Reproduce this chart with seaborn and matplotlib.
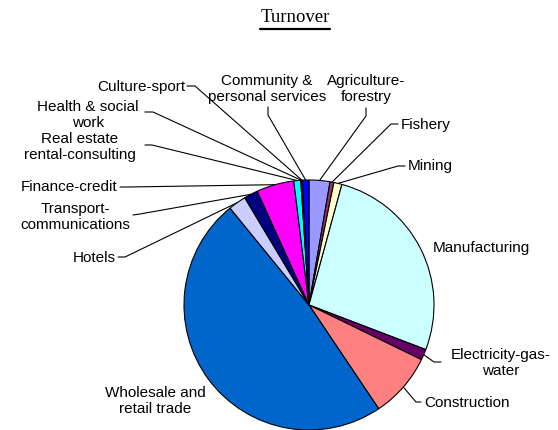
import numpy as np
import matplotlib
matplotlib.use("Agg")
from matplotlib import pyplot as plt
import seaborn as sns

sns.set_theme(style="white")
plt.rcParams['font.family'] = ['Liberation Sans', 'DejaVu Sans']

# data (share of turnover, %)
sectors = ["Agriculture-forestry", "Fishery", "Mining", "Manufacturing",
           "Electricity-gas-water", "Construction", "Wholesale and retail trade",
           "Hotels", "Transport-communications", "Finance-credit",
           "Real estate rental-consulting", "Health & social work",
           "Culture-sport", "Community & personal services"]
shares = [2.7, 0.5, 1.05, 26.6, 1.4, 8.4, 48.6, 2.3, 1.8, 4.85, 0.9, 0.1, 0.1, 0.85]
colors = ["#9999FF", "#993366", "#FFFFCC", "#CCFFFF", "#660066", "#FF8080",
          "#0066CC", "#CCCCFF", "#000080", "#FF00FF", "#00FFFF", "#800080",
          "#800000", "#0000FF"]

# label layout in image pixels: text, x, y, ha, leader start, leader elbow
labels = [
    ("Agriculture-\nforestry", 366, 89, "center", (366, 108), (366, 116)),
    ("Fishery", 401, 125, "left", (398, 124), (391, 124)),
    ("Mining", 408, 166, "left", (405, 166), (398, 166)),
    ("Manufacturing", 433, 248, "left", None, None),
    ("Electricity-gas-\nwater", 501, 363, "center", (441, 362), (434, 362)),
    ("Construction", 424, 403, "left", (421, 402), (416, 402)),
    ("Wholesale and\nretail trade", 155, 401, "center", None, None),
    ("Hotels", 116, 258, "right", (118, 257), (125, 257)),
    ("Transport-\ncommunications", 75, 217, "center", (133, 215), (140, 214)),
    ("Finance-credit", 117, 187, "right", (120, 187), (128, 187)),
    ("Real estate\nrental-consulting", 80, 147, "center", (145, 145), (152, 145)),
    ("Health & social\nwork", 88, 115, "center", (145, 112), (153, 112)),
    ("Culture-sport", 185, 87, "right", (187, 86), (195, 86)),
    ("Community &\npersonal services", 267, 89, "center", (268, 107), (268, 115)),
]

W, H = 558, 430
cx, cy, r = 309, 305, 125


def Y(y):
    return H - y


fig = plt.figure(figsize=(W / 100, H / 100), dpi=100)
ax = fig.add_axes([0, 0, 1, 1])
wedges, _ = ax.pie(shares, colors=sns.color_palette(colors), startangle=90,
                   counterclock=False, center=(cx, Y(cy)), radius=r,
                   wedgeprops={"edgecolor": "black", "linewidth": 0.8})
for w in wedges:
    w.set_zorder(3)

for w, (txt, x, y, ha, start, elbow) in zip(wedges, labels):
    ax.text(x, Y(y), txt, ha=ha, va="center", fontsize=11,
            linespacing=1.1 if "Wholesale" in txt else 1.25,
            color="black", zorder=4)
    if start is None:
        continue
    mid = np.deg2rad((w.theta1 + w.theta2) / 2)
    px, py = cx + r * np.cos(mid), Y(cy) + r * np.sin(mid)
    ax.plot([start[0], elbow[0], px], [Y(start[1]), Y(elbow[1]), py],
            color="black", lw=0.8, zorder=2)

title = ax.text(295, Y(17), "Turnover", ha="center", va="center",
                fontsize=13.5, family="Liberation Serif", color="black")

ax.set_xlim(0, W)
ax.set_ylim(0, H)
ax.set_aspect("equal")
ax.axis("off")

fig.canvas.draw()
bb = title.get_window_extent().transformed(ax.transData.inverted())
ax.plot([bb.x0, bb.x1], [Y(29), Y(29)], color="black", lw=1.6)

fig.savefig("out.png", dpi=100, facecolor="white")
